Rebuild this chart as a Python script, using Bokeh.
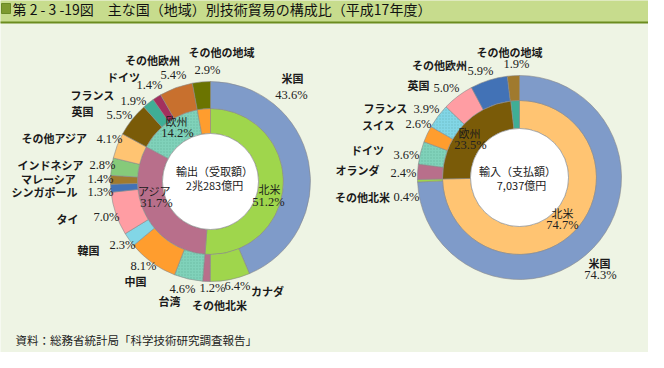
import math
from bokeh.plotting import figure
from bokeh.models import ColumnDataSource, Range1d
from bokeh.core.properties import value
from bokeh.embed import file_html
from bokeh.resources import INLINE

# ---------------- data ----------------
title_text = "第 2 - 3 -19図　主な国（地域）別技術貿易の構成比（平成17年度）"
source_note = "資料：総務省統計局「科学技術研究調査報告」"

exp_center_label = ["輸出（受取額）", "2兆283億円"]
imp_center_label = ["輸入（支払額）", "7,037億円"]

exp_inner_regions = ["北米", "アジア", "欧州", "その他の地域"]
exp_inner_shares = [51.2, 31.7, 14.2, 2.9]
exp_outer_countries = ["米国", "カナダ", "その他北米", "台湾", "中国", "韓国", "タイ",
                       "シンガポール", "マレーシア", "インドネシア", "その他アジア",
                       "英国", "フランス", "ドイツ", "その他欧州", "その他の地域"]
exp_outer_shares = [43.6, 6.4, 1.2, 4.6, 8.1, 2.3, 7.0, 1.3, 1.4, 2.8, 4.1,
                    5.5, 1.9, 1.4, 5.4, 2.9]

imp_inner_regions = ["北米", "欧州", "その他の地域"]
imp_inner_shares = [74.7, 23.5, 1.8]
imp_outer_countries = ["米国", "その他北米", "オランダ", "ドイツ", "スイス", "フランス",
                       "英国", "その他欧州", "その他の地域"]
imp_outer_shares = [74.3, 0.4, 2.4, 3.6, 2.6, 3.9, 5.0, 5.9, 1.9]

# ---------------- styles ----------------
BLUE = "#7f9bc9"; GREEN = "#9fd64c"; MAUVE = "#b86f8b"; TEAL_D = "#80d2ba"
ORANGE = "#ff9d2e"; CYAN = "#82d6e6"; PINK = "#ff9da3"; DBLUE = "#4272b6"
BROWN = "#a07a2e"; LGREEN = "#86ca7a"; LORANGE = "#ffc472"; DOLIVE = "#7a5b08"
TEAL = "#3fae96"; MAROON = "#a3305e"; COPPER = "#c8702e"; OLIVE = "#6b7400"

exp_inner_colors = [GREEN, MAUVE, TEAL_D, ORANGE]
exp_inner_hatch = ["blank", "blank", "dot", "blank"]
exp_outer_colors = [BLUE, GREEN, MAUVE, TEAL_D, ORANGE, CYAN, PINK, DBLUE, BROWN,
                    LGREEN, LORANGE, DOLIVE, TEAL, MAROON, COPPER, OLIVE]
exp_outer_hatch = ["blank", "blank", "blank", "dot"] + ["blank"] * 12

imp_inner_colors = [LORANGE, DOLIVE, TEAL]
imp_inner_hatch = ["blank"] * 3
imp_outer_colors = [BLUE, GREEN, MAUVE, TEAL_D, ORANGE, CYAN, PINK, DBLUE, BROWN]
imp_outer_hatch = ["blank", "blank", "blank", "dot", "blank", "dot", "blank", "blank", "blank"]

# geometry (page pixel coordinates)
EXP_C = (218, 189); EXP_R = (48, 73, 100)
IMP_C = (527, 185); IMP_R = (49, 77, 102)

# label layout: name position, percentage position (page pixels)
exp_outer_pos = {
    "米国": ((300, 85), (299, 102)), "カナダ": ((275, 298), (245, 293)),
    "その他北米": ((227, 312), (220, 295)), "台湾": ((177, 308), (190, 296)),
    "中国": ((143, 288), (151, 273)), "韓国": ((96, 257), (130, 252)),
    "タイ": ((75, 226), (114, 224)), "シンガポール": ((52, 199), (108, 199)),
    "マレーシア": ((56, 186), (108, 186)), "インドネシア": ((58, 172), (110, 172)),
    "その他アジア": ((62, 145), (117, 146)), "英国": ((90, 118), (127, 122)),
    "フランス": ((100, 102), (141, 108)), "ドイツ": ((131, 84), (157, 92)),
    "その他欧州": ((160, 67), (181, 82)), "その他の地域": ((229, 59), (215, 77)),
}
exp_inner_pos = {"北米": ((277, 196), (276, 209)), "アジア": ((162, 198), (164, 210)),
                 "欧州": ((184, 128), (185, 140))}
imp_outer_pos = {
    "米国": ((607, 270), (608, 282)), "その他北米": ((370, 204), (414, 204)),
    "オランダ": ((365, 177), (411, 180)), "ドイツ": ((375, 157), (414, 162)),
    "スイス": ((386, 132), (426, 131)), "フランス": ((393, 115), (434, 116)),
    "英国": ((426, 92), (454, 95)), "その他欧州": ((447, 72), (488, 78)),
    "その他の地域": ((517, 59), (524, 71)),
}
imp_inner_pos = {"北米": ((570, 220), (570, 232)), "欧州": ((477, 140), (478, 152))}

BG = "#eef4e4"
JP = value("Noto Sans CJK JP")
SERIF = value("Liberation Serif")


def Y(y):
    return 368 - y


p = figure(width=648, height=352, output_backend="svg", toolbar_location=None,
           x_range=Range1d(8, 656), y_range=Range1d(8, 360), min_border=0,
           background_fill_color=BG, border_fill_color=BG, outline_line_color=None)
p.axis.visible = False
p.grid.visible = False

# title band
p.quad(left=0, right=664, top=Y(0), bottom=Y(30), fill_color="#c7dc8d", line_color=None)
p.segment(x0=0, x1=664, y0=Y(30), y1=Y(30), line_color="#6b8c1e", line_width=2)
p.quad(left=9, right=18, top=Y(11), bottom=Y(21), fill_color="#7d9a2f", line_color="#6a8a26")
p.text(x=[20], y=[Y(16)], text=[title_text], text_font=JP, text_font_size="14px",
       text_align="left", text_baseline="middle", text_color="#111111")


def ring(center, r_in, r_out, shares, colors, hatches):
    total = float(sum(shares))
    c0 = 0.0
    starts, ends = [], []
    for v in shares:
        c1 = c0 + v / total
        starts.append(math.pi / 2 - 2 * math.pi * c1)
        ends.append(math.pi / 2 - 2 * math.pi * c0)
        c0 = c1
    src = ColumnDataSource(dict(start=starts, end=ends, color=colors, hatch=hatches))
    p.annular_wedge(x=center[0], y=Y(center[1]), inner_radius=r_in, outer_radius=r_out,
                    start_angle="start", end_angle="end", source=src,
                    fill_color="color", line_color="#8a8a8a", line_width=0.6,
                    hatch_pattern="hatch", hatch_color="#2f6f5f", hatch_alpha=0.25,
                    hatch_scale=3, hatch_weight=0.6)


ring(EXP_C, EXP_R[0], EXP_R[1], exp_inner_shares, exp_inner_colors, exp_inner_hatch)
ring(EXP_C, EXP_R[1], EXP_R[2], exp_outer_shares, exp_outer_colors, exp_outer_hatch)
ring(IMP_C, IMP_R[0], IMP_R[1], imp_inner_shares, imp_inner_colors, imp_inner_hatch)
ring(IMP_C, IMP_R[1], IMP_R[2], imp_outer_shares, imp_outer_colors, imp_outer_hatch)

# hole fill
for c, r in ((EXP_C, EXP_R[0]), (IMP_C, IMP_R[0])):
    p.circle(x=[c[0]], y=[Y(c[1])], radius=r, fill_color="#ffffff", line_color="#8a8a8a",
             line_width=0.6)


def labels(names, shares, pos, name_bold=True):
    nx, ny, nt, px, py, pt = [], [], [], [], [], []
    for n, v in zip(names, shares):
        if n not in pos:
            continue
        (a, b), (c, d) = pos[n]
        nx.append(a); ny.append(Y(b)); nt.append(n)
        px.append(c); py.append(Y(d)); pt.append(f"{v:.1f}%")
    p.text(x=nx, y=ny, text=nt, text_font=JP, text_font_size="11px",
           text_font_style="bold" if name_bold else "normal",
           text_align="center", text_baseline="middle", text_color="#1a1a1a")
    p.text(x=px, y=py, text=pt, text_font=SERIF, text_font_size="12.5px",
           text_align="center", text_baseline="middle", text_color="#222222")


labels(exp_outer_countries, exp_outer_shares, exp_outer_pos)
labels(exp_inner_regions, exp_inner_shares, exp_inner_pos, name_bold=False)
labels(imp_outer_countries, imp_outer_shares, imp_outer_pos)
labels(imp_inner_regions, imp_inner_shares, imp_inner_pos, name_bold=False)

# center labels
p.text(x=[222, 222], y=[Y(178), Y(192)], text=exp_center_label, text_font=JP,
       text_font_size="11px", text_align="center", text_baseline="middle", text_color="#1a1a1a")
p.text(x=[525, 529], y=[Y(178), Y(192)], text=imp_center_label, text_font=JP,
       text_font_size="11px", text_align="center", text_baseline="middle", text_color="#1a1a1a")

# source note
p.text(x=[23], y=[Y(347)], text=[source_note], text_font=JP, text_font_size="11.5px",
       text_align="left", text_baseline="middle", text_color="#222222")

open("out.html", "w").write(file_html(p, INLINE))
